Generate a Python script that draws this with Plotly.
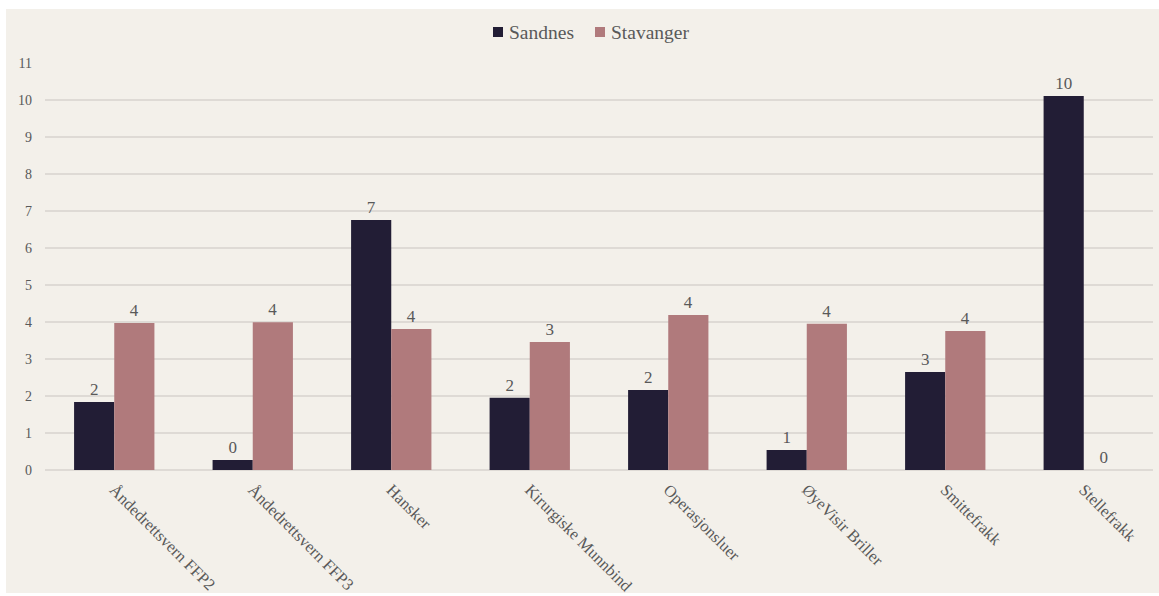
import plotly.graph_objects as go

categories = [
    "Åndedrettsvern FFP2",
    "Åndedrettsvern FFP3",
    "Hansker",
    "Kirurgiske Munnbind",
    "Operasjonsluer",
    "ØyeVisir Briller",
    "Smittefrakk",
    "Stellefrakk",
]
sandnes = [1.84, 0.27, 6.76, 1.95, 2.16, 0.54, 2.65, 10.11]
stavanger = [3.97, 3.99, 3.81, 3.46, 4.19, 3.95, 3.76, 0.0]
series = [("Sandnes", sandnes, "#221d35"), ("Stavanger", stavanger, "#b07a7c")]

W, H = 1159, 596
ML, MR, MT, MB = 45, 6, 63, 126
TXT = "#595959"
FONT = "Liberation Serif, Times New Roman, serif"

fig = go.Figure()
for name, vals, col in series:
    fig.add_trace(go.Bar(
        name=name, x=categories, y=vals,
        marker=dict(color=col, line=dict(width=0)),
        texttemplate="%{y:.0f}", textposition="outside",
        textfont=dict(family=FONT, size=17, color=TXT), cliponaxis=False,
        showlegend=False,
    ))

pw, ph = W - ML - MR, H - MT - MB


def px_x(p):
    return (p - ML) / pw


def px_y(p):
    return (H - MB - p) / ph


# beige card behind the chart, leaving a thin white edge at top/left
fig.add_shape(
    type="rect", xref="paper", yref="paper", layer="below",
    x0=px_x(6), x1=px_x(W), y0=px_y(H - 3), y1=px_y(9),
    fillcolor="#f3f0ea", line=dict(width=0),
)

# compact legend across the top: square swatch followed by the series name
legend_pos = [493, 595]
for (name, vals, col), lx in zip(series, legend_pos):
    fig.add_shape(
        type="rect", xref="paper", yref="paper",
        x0=px_x(lx), x1=px_x(lx + 10), y0=px_y(37), y1=px_y(27),
        fillcolor=col, line=dict(width=0),
    )
    fig.add_annotation(
        xref="paper", yref="paper", x=px_x(lx + 14), y=px_y(32),
        xanchor="left", yanchor="middle", text=name, showarrow=False,
        font=dict(family=FONT, size=19.5, color=TXT),
    )

fig.update_layout(
    width=W, height=H,
    margin=dict(l=ML, r=MR, t=MT, b=MB, autoexpand=False),
    paper_bgcolor="white", plot_bgcolor="rgba(0,0,0,0)",
    barmode="group", bargap=0.42, bargroupgap=0,
    font=dict(family=FONT, color=TXT),
    showlegend=False,
)
fig.update_xaxes(
    tickangle=45, tickfont=dict(family=FONT, size=16.5, color=TXT),
    showline=False, ticks="", showgrid=False, ticklabelstandoff=6,
    automargin=False,
)
fig.update_yaxes(
    range=[0, 11], dtick=1, tickfont=dict(family=FONT, size=14, color=TXT),
    gridcolor="#dedad5", gridwidth=1.5, zeroline=True,
    zerolinecolor="#dedad5", zerolinewidth=1.5, ticks="", ticklabelstandoff=12,
    automargin=False,
)

fig.write_html("out.html")
